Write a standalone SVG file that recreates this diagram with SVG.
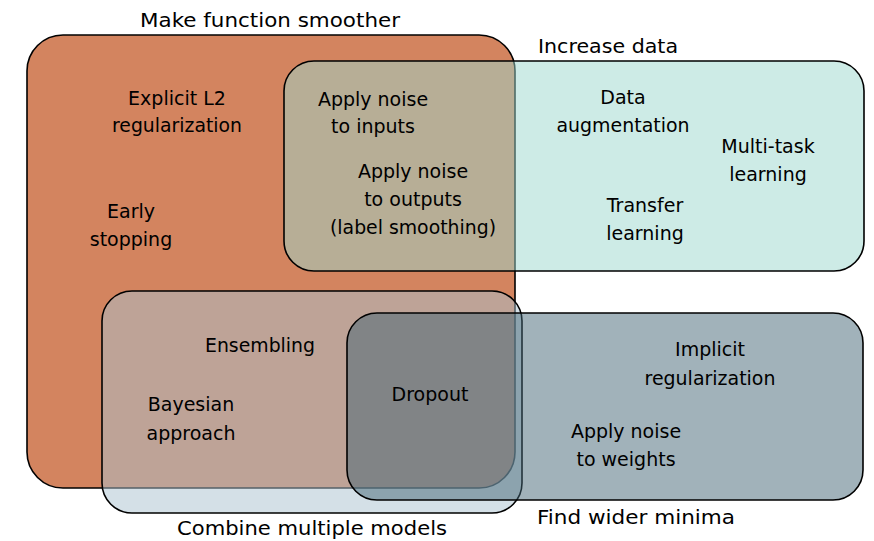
<svg xmlns="http://www.w3.org/2000/svg" width="874" height="541" viewBox="0 0 874 541">
<style>
  .set { stroke: #000; stroke-width: 1.6; }
  text { font-family: "DejaVu Sans", "Liberation Sans", sans-serif; font-size: 19px; fill: #000; text-anchor: middle; }
  .title { text-anchor: start; }
</style>
<rect width="874" height="541" fill="#fff"/>
<g id="smoother">
  <rect class="set" x="27" y="35" width="488" height="453" rx="36" ry="36" fill="#d3845f"/>
  <text class="title" x="140" y="27" textLength="260" lengthAdjust="spacingAndGlyphs">Make function smoother</text>
</g>
<g id="data">
  <rect class="set" x="284" y="61" width="580" height="210" rx="30" ry="30" fill="#9bd7cd" fill-opacity="0.5"/>
  <text class="title" x="538" y="53" textLength="140" lengthAdjust="spacingAndGlyphs">Increase data</text>
</g>
<g id="combine">
  <rect class="set" x="102" y="291" width="420" height="222" rx="30" ry="30" fill="#a9c1cf" fill-opacity="0.5"/>
  <text class="title" x="177" y="535" textLength="270" lengthAdjust="spacingAndGlyphs">Combine multiple models</text>
</g>
<g id="minima">
  <rect class="set" x="347" y="313" width="516" height="187" rx="30" ry="30" fill="#436575" fill-opacity="0.5"/>
  <text class="title" x="537" y="524" textLength="198" lengthAdjust="spacingAndGlyphs">Find wider minima</text>
</g>
<g id="connectors"/>
<g id="labels">
  <g id="l2"><text x="177" y="105">Explicit L2</text><text x="177" y="132" textLength="130" lengthAdjust="spacingAndGlyphs">regularization</text></g>
  <g id="early"><text x="131" y="218">Early</text><text x="131" y="246">stopping</text></g>
  <g id="noise-inputs"><text x="373" y="106">Apply noise</text><text x="373" y="133">to inputs</text></g>
  <g id="noise-outputs"><text x="413" y="178">Apply noise</text><text x="413" y="206">to outputs</text><text x="413" y="234" textLength="166" lengthAdjust="spacingAndGlyphs">(label smoothing)</text></g>
  <g id="augmentation"><text x="623" y="104">Data</text><text x="623" y="132" textLength="133" lengthAdjust="spacingAndGlyphs">augmentation</text></g>
  <g id="multitask"><text x="768" y="153">Multi-task</text><text x="768" y="181">learning</text></g>
  <g id="transfer"><text x="645" y="212">Transfer</text><text x="645" y="240">learning</text></g>
  <g id="ensembling"><text x="260" y="352" textLength="110" lengthAdjust="spacingAndGlyphs">Ensembling</text></g>
  <g id="bayesian"><text x="191" y="411">Bayesian</text><text x="191" y="440">approach</text></g>
  <g id="dropout"><text x="430" y="401">Dropout</text></g>
  <g id="implicit"><text x="710" y="356">Implicit</text><text x="710" y="385" textLength="131" lengthAdjust="spacingAndGlyphs">regularization</text></g>
  <g id="noise-weights"><text x="626" y="438">Apply noise</text><text x="626" y="466">to weights</text></g>
</g>
</svg>
